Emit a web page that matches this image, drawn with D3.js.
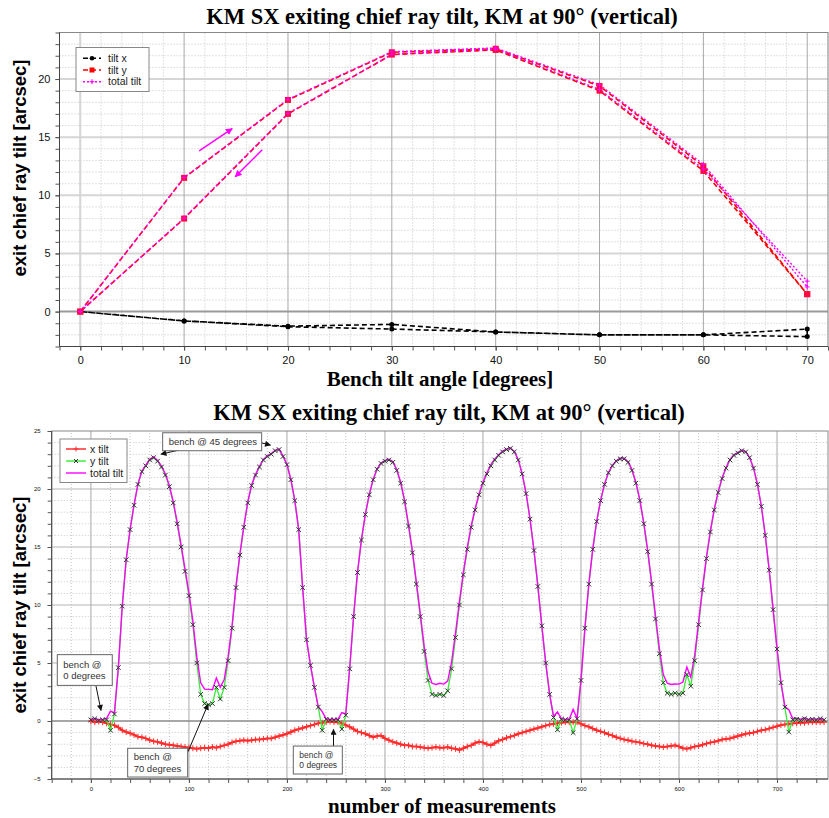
<!DOCTYPE html>
<html>
<head>
<meta charset="utf-8">
<script src="https://cdn.jsdelivr.net/npm/d3@7"></script>
<style>
  body { margin: 0; background: #fff; }
  svg { display: block; }
</style>
</head>
<body>
<svg id="chart" width="829" height="818"></svg>
<script>
// ---------------- Upper panel: bench swept 0 -> 70 -> 0 degrees ----------------
const benchAngles = [0, 10, 20, 30, 40, 50, 60, 70, 70, 60, 50, 40, 30, 20, 10, 0];
const tiltX      = [0, -0.8, -1.3, -1.5, -1.75, -2.0, -2.0, -1.5, -2.15, -2.0, -2.0, -1.75, -1.1, -1.25, -0.8, 0];
const tiltY      = [0, 11.5, 18.2, 22.3, 22.6, 19.4, 12.5, 1.5, 1.5, 12.1, 19.0, 22.5, 22.1, 17.0, 8.0, 0];
const totalTilt  = [0, 11.53, 18.25, 22.35, 22.67, 19.5, 12.66, 2.12, 2.62, 12.26, 19.1, 22.57, 22.13, 17.05, 8.04, 0];
const topXTicks = [0, 10, 20, 30, 40, 50, 60, 70];
const topYTicks = [0, 5, 10, 15, 20];

// ---------------- Lower panel: continuous log, every 4th measurement ----------------
const measurements = d3.range(0, 749, 4);
const xTiltLog = [
  0.0, -0.1, -0.05, -0.1, -0.2, -0.3, -0.37, -0.55, -0.8, -0.95,
  -1.05, -1.2, -1.35, -1.4, -1.5, -1.65, -1.75, -1.8, -1.9, -2.0,
  -2.05, -2.1, -2.15, -2.2, -2.25, -2.3, -2.35, -2.4, -2.35, -2.3,
  -2.35, -2.25, -2.3, -2.2, -2.1, -2.0, -1.85, -1.75, -1.7, -1.65,
  -1.7, -1.65, -1.6, -1.6, -1.55, -1.5, -1.5, -1.4, -1.3, -1.2,
  -1.1, -0.95, -0.8, -0.7, -0.6, -0.5, -0.4, -0.3, -0.2, -0.15,
  -0.1, -0.05, -0.1, -0.1, -0.2, -0.35, -0.5, -0.7, -0.9, -1.0,
  -1.1, -1.25, -1.4, -1.3, -1.25, -1.5, -1.65, -1.8, -1.9, -2.0,
  -2.1, -2.1, -2.2, -2.2, -2.25, -2.3, -2.35, -2.3, -2.25, -2.3,
  -2.3, -2.25, -2.35, -2.4, -2.5, -2.35, -2.2, -2.1, -1.9, -1.8,
  -1.85, -2.0, -2.1, -1.9, -1.7, -1.6, -1.45, -1.35, -1.25, -1.1,
  -1.0, -0.9, -0.8, -0.7, -0.6, -0.5, -0.4, -0.3, -0.25, -0.2,
  -0.15, -0.1, -0.1, -0.1, -0.1, -0.25, -0.4, -0.5, -0.65, -0.8,
  -0.9, -1.0, -1.15, -1.25, -1.4, -1.5, -1.6, -1.65, -1.75, -1.8,
  -1.85, -1.95, -2.0, -2.1, -2.15, -2.2, -2.25, -2.2, -2.15, -2.1,
  -2.2, -2.35, -2.4, -2.3, -2.2, -2.15, -2.05, -1.95, -1.85, -1.8,
  -1.7, -1.6, -1.55, -1.5, -1.4, -1.3, -1.2, -1.1, -1.05, -1.0,
  -0.9, -0.8, -0.75, -0.65, -0.55, -0.45, -0.35, -0.3, -0.25, -0.2,
  -0.2, -0.15, -0.15, -0.1, -0.1, -0.1, -0.1, -0.1
];
const yTiltLog = [
  0.1, 0.2, 0.05, 0.1, 0.1, -0.8, 0.6, 4.6, 9.9, 13.9,
  16.5, 18.6, 20.4, 21.5, 22.0, 22.5, 22.7, 22.4, 21.9, 21.2,
  20.2, 18.8, 17.0, 15.0, 12.9, 10.8, 8.3, 5.0, 2.3, 1.5,
  1.4, 1.5, 2.9, 1.9, 2.9, 5.2, 8.0, 11.5, 14.3, 16.7,
  18.8, 20.3, 21.2, 21.9, 22.5, 22.8, 23.0, 23.3, 23.4, 22.8,
  22.1, 20.8, 19.0, 16.5, 11.5, 7.0, 4.8, 2.9, 1.2, -0.8,
  0.15, 0.1, 0.1, 0.1, -0.7, 0.5, 4.5, 9.0, 12.8, 15.6,
  17.8, 19.5, 20.8, 21.7, 22.2, 22.4, 22.5, 22.3, 21.6, 20.5,
  18.9, 16.8, 14.5, 11.8, 9.0, 6.0, 3.5, 2.3, 2.2, 2.3,
  2.2, 2.6, 4.5, 7.2, 10.0, 12.6, 14.8, 16.7, 18.2, 19.5,
  20.5, 21.3, 22.0, 22.5, 22.9, 23.2, 23.4, 23.5, 23.2, 22.5,
  21.3, 19.6, 17.4, 14.7, 11.6, 8.2, 5.0, 2.3, 0.3, -0.75,
  0.15, 0.1, 0.1, -1.0, 0.2, 3.5, 8.0, 11.8, 14.8, 17.2,
  19.0, 20.4, 21.4, 22.0, 22.4, 22.6, 22.6, 22.3, 21.6, 20.5,
  19.0, 17.0, 14.6, 11.8, 8.8, 5.8, 3.3, 2.4, 2.3, 2.4,
  2.3, 2.4, 4.0, 3.0, 5.2, 8.3, 11.3, 14.0, 16.3, 18.2,
  19.7, 20.9, 21.8, 22.5, 22.9, 23.1, 23.3, 23.2, 22.7, 21.8,
  20.4, 18.5, 16.0, 13.0, 9.6, 6.2, 3.3, 1.2, -0.95, 0.1,
  0.15, 0.05, 0.2, 0.1, 0.15, 0.1, 0.2, 0.1
];
const totalTiltLog = [
  0.1, 0.22, 0.07, 0.14, 0.22, 0.85, 0.7, 4.63, 9.93, 13.93,
  16.53, 18.64, 20.44, 21.55, 22.05, 22.56, 22.77, 22.47, 21.98, 21.29,
  20.3, 18.92, 17.14, 15.16, 13.1, 11.04, 8.63, 5.55, 3.29, 2.75,
  2.73, 2.7, 3.7, 2.91, 3.58, 5.57, 8.21, 11.63, 14.4, 16.78,
  18.88, 20.37, 21.26, 21.96, 22.55, 22.85, 23.05, 23.34, 23.44, 22.83,
  22.13, 20.82, 19.02, 16.51, 11.52, 7.02, 4.82, 2.92, 1.22, 0.81,
  0.18, 0.11, 0.14, 0.14, 0.73, 0.61, 4.53, 9.03, 12.83, 15.63,
  17.83, 19.54, 20.85, 21.74, 22.24, 22.45, 22.56, 22.37, 21.68, 20.6,
  19.02, 16.93, 14.67, 12.0, 9.28, 6.43, 4.22, 3.25, 3.15, 3.25,
  3.18, 3.44, 5.08, 7.59, 10.31, 12.82, 14.96, 16.83, 18.3, 19.58,
  20.58, 21.39, 22.1, 22.58, 22.96, 23.26, 23.44, 23.54, 23.23, 22.53,
  21.32, 19.62, 17.42, 14.72, 11.62, 8.22, 5.02, 2.32, 0.39, 0.78,
  0.21, 0.14, 0.14, 1.0, 0.22, 3.51, 8.01, 11.81, 14.81, 17.22,
  19.02, 20.42, 21.43, 22.04, 22.44, 22.65, 22.66, 22.36, 21.67, 20.58,
  19.09, 17.11, 14.74, 11.99, 9.06, 6.2, 3.99, 3.26, 3.15, 3.19,
  3.18, 3.36, 4.66, 3.78, 5.65, 8.57, 11.48, 14.14, 16.4, 18.29,
  19.77, 20.96, 21.86, 22.55, 22.94, 23.14, 23.33, 23.23, 22.72, 21.82,
  20.42, 18.52, 16.02, 13.02, 9.62, 6.22, 3.32, 1.24, 0.98, 0.22,
  0.25, 0.16, 0.25, 0.14, 0.18, 0.14, 0.22, 0.14
];
const bottomXTicks = [0, 100, 200, 300, 400, 500, 600, 700];
const bottomYTicks = [-5, 0, 5, 10, 15, 20, 25];

const titleText = "KM SX exiting chief ray tilt, KM at 90° (vertical)";
const yLabelText = "exit chief ray tilt [arcsec]";

// ---------------- common helpers ----------------
const svg = d3.select("#chart");
const sans = "'Liberation Sans', Arial, sans-serif";
const serif = "'Liberation Serif', 'Times New Roman', serif";

const defs = svg.append("defs");
defs.append("marker").attr("id", "headBlack")
  .attr("viewBox", "0 0 10 10").attr("refX", 9).attr("refY", 5)
  .attr("markerWidth", 7).attr("markerHeight", 6).attr("markerUnits", "userSpaceOnUse")
  .attr("orient", "auto")
  .append("path").attr("d", "M0,0L10,5L0,10z").attr("fill", "#111");
defs.append("marker").attr("id", "headMagenta")
  .attr("viewBox", "0 0 10 10").attr("refX", 9).attr("refY", 5)
  .attr("markerWidth", 7).attr("markerHeight", 7).attr("markerUnits", "userSpaceOnUse")
  .attr("orient", "auto")
  .append("path").attr("d", "M0,0L10,5L0,10z").attr("fill", "#ff00ff");

function drawGrid(g, x, y, xMinor, xMajor, yMinor, yMajor, style) {
  const [y0, y1] = y.range();
  const [x0, x1] = x.range();
  g.append("g").selectAll("line").data(xMinor).join("line")
    .attr("x1", d => x(d)).attr("x2", d => x(d)).attr("y1", y0).attr("y2", y1)
    .attr("stroke", "#c4c4c4").attr("stroke-width", 1).attr("stroke-dasharray", "1,2");
  g.append("g").selectAll("line").data(yMinor).join("line")
    .attr("y1", d => y(d)).attr("y2", d => y(d)).attr("x1", x0).attr("x2", x1)
    .attr("stroke", "#c4c4c4").attr("stroke-width", 1).attr("stroke-dasharray", "1,2");
  g.append("g").selectAll("line").data(yMajor).join("line")
    .attr("y1", d => y(d)).attr("y2", d => y(d)).attr("x1", x0).attr("x2", x1)
    .attr("stroke", style.hMajor).attr("stroke-width", style.hMajorW);
  g.append("g").selectAll("line").data(xMajor).join("line")
    .attr("x1", d => x(d)).attr("x2", d => x(d)).attr("y1", y0).attr("y2", y1)
    .attr("stroke", style.vMajor).attr("stroke-width", style.vMajorW);
  g.append("line")
    .attr("x1", x0).attr("x2", x1).attr("y1", y(0)).attr("y2", y(0))
    .attr("stroke", style.zero).attr("stroke-width", style.zeroW);
}

function drawAxes(g, x, y, opt) {
  const [y0, y1] = y.range();
  const [x0, x1] = x.range();
  // minor ticks
  g.append("g").attr("transform", `translate(0,${y0})`)
    .call(d3.axisBottom(x).tickValues(opt.xMinorTicks).tickSize(opt.minorLen).tickFormat(""))
    .call(s => s.select(".domain").remove())
    .call(s => s.selectAll("line").attr("stroke", "#555"));
  g.append("g").attr("transform", `translate(${x0},0)`)
    .call(d3.axisLeft(y).tickValues(opt.yMinorTicks).tickSize(opt.minorLen).tickFormat(""))
    .call(s => s.select(".domain").remove())
    .call(s => s.selectAll("line").attr("stroke", "#555"));
  // major ticks + labels
  g.append("g").attr("transform", `translate(0,${y0})`)
    .call(d3.axisBottom(x).tickValues(opt.xTicks).tickSize(opt.majorLen).tickPadding(opt.xPad).tickFormat(d3.format("d")))
    .call(s => s.select(".domain").remove())
    .call(s => s.selectAll("line").attr("stroke", "#555"))
    .call(s => s.selectAll("text").attr("font-family", sans).attr("font-size", opt.fontSize).attr("fill", "#111"));
  g.append("g").attr("transform", `translate(${x0},0)`)
    .call(d3.axisLeft(y).tickValues(opt.yTicks).tickSize(opt.majorLen).tickPadding(opt.yPad).tickFormat(d3.format("d")))
    .call(s => s.select(".domain").remove())
    .call(s => s.selectAll("line").attr("stroke", "#555"))
    .call(s => s.selectAll("text").attr("font-family", sans).attr("font-size", opt.fontSize).attr("fill", "#111"));
  // frame
  g.append("rect").attr("x", x0).attr("y", y1).attr("width", x1 - x0).attr("height", y0 - y1)
    .attr("fill", "none").attr("stroke", "#888").attr("stroke-width", 1);
  g.append("line").attr("x1", x0).attr("x2", x1).attr("y1", y0).attr("y2", y0).attr("stroke", "#444");
  g.append("line").attr("x1", x0).attr("x2", x0).attr("y1", y0).attr("y2", y1).attr("stroke", "#444");
}

const plusPath = s => `M${-s},0H${s}M0,${-s}V${s}`;
const crossPath = s => `M${-s},${-s}L${s},${s}M${-s},${s}L${s},${-s}`;

// =================== Upper panel ===================
const xT = d3.scaleLinear().domain([-2, 72]).range([59.5, 828]);
const yT = d3.scaleLinear().domain([-3, 24]).range([346.5, 32.5]);
const gTop = svg.append("g");

drawGrid(gTop, xT, yT,
  d3.range(-2, 73, 2).filter(d => d % 10 !== 0),
  topXTicks,
  d3.range(-3, 25).filter(d => d % 5 !== 0),
  [5, 10, 15, 20],
  { hMajor: "#d6d6d6", hMajorW: 2, vMajor: "#a8a8a8", vMajorW: 1, zero: "#9a9a9a", zeroW: 2 });
// light vertical band at zero
gTop.append("line").attr("x1", xT(0)).attr("x2", xT(0)).attr("y1", yT.range()[0]).attr("y2", yT.range()[1])
  .attr("stroke", "#d6d6d6").attr("stroke-width", 2);

drawAxes(gTop, xT, yT, {
  xTicks: topXTicks, xMinorTicks: d3.range(-2, 73, 2),
  yTicks: topYTicks, yMinorTicks: d3.range(-3, 25),
  minorLen: 4, majorLen: 4, xPad: 6, yPad: 5, fontSize: "11px"
});

defs.append("clipPath").attr("id", "clipTop").append("rect")
  .attr("x", 59.5).attr("y", 32.5).attr("width", 828 - 59.5).attr("height", 346.5 - 32.5);
const topData = benchAngles.map((a, i) => ({ a, x: tiltX[i], y: tiltY[i], t: totalTilt[i] }));
const topPlot = gTop.append("g").attr("clip-path", "url(#clipTop)");

const lineTop = key => d3.line().x(d => xT(d.a)).y(d => yT(d[key]));
topPlot.append("path").datum(topData).attr("d", lineTop("x"))
  .attr("fill", "none").attr("stroke", "#000").attr("stroke-width", 1.6).attr("stroke-dasharray", "5,3");
topPlot.append("path").datum(topData).attr("d", lineTop("y"))
  .attr("fill", "none").attr("stroke", "#ff0000").attr("stroke-width", 1.6).attr("stroke-dasharray", "5,3");
topPlot.append("path").datum(topData).attr("d", lineTop("t"))
  .attr("fill", "none").attr("stroke", "#ff00ff").attr("stroke-width", 1.4).attr("stroke-dasharray", "2,2");
topPlot.selectAll(".mx").data(topData).join("circle")
  .attr("cx", d => xT(d.a)).attr("cy", d => yT(d.x)).attr("r", 2.5).attr("fill", "#000");
topPlot.selectAll(".my").data(topData).join("rect")
  .attr("x", d => xT(d.a) - 3).attr("y", d => yT(d.y) - 3).attr("width", 6).attr("height", 6)
  .attr("fill", "#ff0a3c");
topPlot.selectAll(".mt").data(topData).join("path")
  .attr("transform", d => `translate(${xT(d.a)},${yT(d.t)})`).attr("d", plusPath(2.5))
  .attr("stroke", "#ff00ff").attr("stroke-width", 1).attr("fill", "none");

// sweep direction arrows (angle, tilt)
const sweepArrows = [
  { from: [11.45, 13.83], to: [14.63, 15.74] },
  { from: [17.52, 13.91], to: [14.92, 11.59] }
];
gTop.selectAll(".sweep").data(sweepArrows).join("line")
  .attr("x1", d => xT(d.from[0])).attr("y1", d => yT(d.from[1]))
  .attr("x2", d => xT(d.to[0])).attr("y2", d => yT(d.to[1]))
  .attr("stroke", "#ff00ff").attr("stroke-width", 1.5).attr("marker-end", "url(#headMagenta)");

// legend
const legT = gTop.append("g").attr("transform", "translate(76,47.5)");
legT.append("rect").attr("width", 73).attr("height", 44).attr("fill", "#fff").attr("stroke", "#888");
const legTopItems = [
  { label: "tilt x", color: "#000", dash: "5,3", mark: "circle" },
  { label: "tilt y", color: "#ff0000", dash: "5,3", mark: "square" },
  { label: "total tilt", color: "#ff00ff", dash: "2,2", mark: "plus" }
];
legTopItems.forEach((d, i) => {
  const cy = 10.8 + i * 11.7;
  legT.append("line").attr("x1", 7).attr("x2", 25).attr("y1", cy).attr("y2", cy)
    .attr("stroke", d.color).attr("stroke-width", 1.5).attr("stroke-dasharray", d.dash);
  if (d.mark === "circle") legT.append("circle").attr("cx", 16).attr("cy", cy).attr("r", 2.3).attr("fill", d.color);
  if (d.mark === "square") legT.append("rect").attr("x", 13.5).attr("y", cy - 2.5).attr("width", 5).attr("height", 5).attr("fill", d.color);
  if (d.mark === "plus") legT.append("path").attr("transform", `translate(16,${cy})`).attr("d", plusPath(2.5)).attr("stroke", d.color);
  legT.append("text").attr("x", 32).attr("y", cy + 3.7).text(d.label)
    .attr("font-family", sans).attr("font-size", "10.5px").attr("fill", "#222");
});

// titles
svg.append("text").attr("x", 442).attr("y", 24).attr("text-anchor", "middle")
  .attr("font-family", serif).attr("font-weight", "bold").attr("font-size", "22.5px").text(titleText);
svg.append("text").attr("x", 440).attr("y", 386).attr("text-anchor", "middle")
  .attr("font-family", serif).attr("font-weight", "bold").attr("font-size", "21px").text("Bench tilt angle [degrees]");
svg.append("text").attr("transform", "translate(26,168) rotate(-90)").attr("text-anchor", "middle")
  .attr("font-family", sans).attr("font-weight", "bold").attr("font-size", "18.5px").text(yLabelText);

// =================== Lower panel ===================
const xB = d3.scaleLinear().domain([-40, 752]).range([51.7, 828]);
const yB = d3.scaleLinear().domain([-5, 25]).range([779, 431]);
const gBot = svg.append("g");

drawGrid(gBot, xB, yB,
  d3.range(-40, 752, 20).filter(d => d % 100 !== 0),
  bottomXTicks,
  d3.range(-5, 26).filter(d => d % 5 !== 0),
  [5, 10, 15, 20],
  { hMajor: "#b4b4b4", hMajorW: 1, vMajor: "#a8a8a8", vMajorW: 1, zero: "#8a8a8a", zeroW: 1.5 });

drawAxes(gBot, xB, yB, {
  xTicks: bottomXTicks, xMinorTicks: d3.range(-40, 752, 20),
  yTicks: bottomYTicks, yMinorTicks: d3.range(-5, 26),
  minorLen: 4, majorLen: 4, xPad: 4, yPad: 7, fontSize: "6px"
});

defs.append("clipPath").attr("id", "clipBot").append("rect")
  .attr("x", 51.7).attr("y", 431).attr("width", 828 - 51.7).attr("height", 779 - 431);
const botData = measurements.map((m, i) => ({ m, x: xTiltLog[i], y: yTiltLog[i], t: totalTiltLog[i] }));
const botPlot = gBot.append("g").attr("clip-path", "url(#clipBot)");
const lineBot = key => d3.line().x(d => xB(d.m)).y(d => yB(d[key]));

// x tilt
botPlot.append("path").datum(botData).attr("d", lineBot("x"))
  .attr("fill", "none").attr("stroke", "#ff2020").attr("stroke-width", 2);
botPlot.selectAll(".px").data(botData).join("path")
  .attr("transform", d => `translate(${xB(d.m)},${yB(d.x)})`).attr("d", plusPath(3))
  .attr("stroke", "#ff3030").attr("stroke-width", 1).attr("fill", "none");
// y tilt line
botPlot.append("path").datum(botData).attr("d", lineBot("y"))
  .attr("fill", "none").attr("stroke", "#33ee33").attr("stroke-width", 1.3);
// total tilt
botPlot.append("path").datum(botData).attr("d", lineBot("t"))
  .attr("fill", "none").attr("stroke", "#ff00ff").attr("stroke-width", 1.4);
// y tilt markers
botPlot.selectAll(".py").data(botData).join("path")
  .attr("transform", d => `translate(${xB(d.m)},${yB(d.y)})`).attr("d", crossPath(2.3))
  .attr("stroke", "#333").attr("stroke-width", 1).attr("fill", "none");

// legend
const legB = gBot.append("g").attr("transform", "translate(60,439)");
legB.append("rect").attr("width", 67).attr("height", 43.5).attr("fill", "#fff").attr("stroke", "#888");
const legBotItems = [
  { label: "x tilt", color: "#ff2020", mark: "plus", markColor: "#ff3030" },
  { label: "y tilt", color: "#33ee33", mark: "cross", markColor: "#333" },
  { label: "total tilt", color: "#ff00ff", mark: null }
];
legBotItems.forEach((d, i) => {
  const cy = 10 + i * 12;
  legB.append("line").attr("x1", 6).attr("x2", 26).attr("y1", cy).attr("y2", cy)
    .attr("stroke", d.color).attr("stroke-width", 1.4);
  if (d.mark === "plus") legB.append("path").attr("transform", `translate(16,${cy})`).attr("d", plusPath(2.5)).attr("stroke", d.markColor);
  if (d.mark === "cross") legB.append("path").attr("transform", `translate(16,${cy})`).attr("d", crossPath(2)).attr("stroke", d.markColor);
  legB.append("text").attr("x", 30).attr("y", cy + 3.7).text(d.label)
    .attr("font-family", sans).attr("font-size", "10.5px").attr("fill", "#222");
});

// callouts: box corners and arrows in (measurement, tilt) units
const callouts = [
  { lines: ["bench @ 45 degrees"], box: [73.2, 24.85, 174.2, 23.3], size: 9.5,
    arrows: [{ from: [90.1, 23.36], to: [71.5, 23.0] }, { from: [174.2, 23.97], to: [183.2, 23.79] }] },
  { lines: ["bench @", "0 degrees"], box: [-34.3, 5.72, 21.8, 3.07], size: 9.5,
    arrows: [{ from: [5.2, 3.01], to: [10.3, 0.91] }] },
  { lines: ["bench @", "70 degrees"], box: [37.5, -2.35, 98.7, -4.83], size: 9.5,
    arrows: [{ from: [99.1, -2.65], to: [119.5, 1.44] }] },
  { lines: ["bench @", "0 degrees"], box: [206.5, -2.16, 256.5, -4.57], size: 8.5,
    arrows: [{ from: [247.5, -2.16], to: [247.5, -0.72] }] }
];
callouts.forEach(c => {
  const g = gBot.append("g");
  c.arrows.forEach(a => {
    g.append("line")
      .attr("x1", xB(a.from[0])).attr("y1", yB(a.from[1]))
      .attr("x2", xB(a.to[0])).attr("y2", yB(a.to[1]))
      .attr("stroke", "#111").attr("stroke-width", 1).attr("marker-end", "url(#headBlack)");
  });
  const bx = xB(c.box[0]), by = yB(c.box[1]);
  const bw = xB(c.box[2]) - bx, bh = yB(c.box[3]) - by;
  g.append("rect").attr("x", bx).attr("y", by).attr("width", bw).attr("height", bh)
    .attr("fill", "#fff").attr("stroke", "#666").attr("stroke-width", 1);
  const lh = c.size * 1.2;
  const firstBase = by + bh / 2 - (c.lines.length - 1) * lh / 2 + c.size * 0.35;
  c.lines.forEach((t, i) => {
    g.append("text").attr("x", bx + 6).attr("y", firstBase + i * lh).text(t)
      .attr("font-family", sans).attr("font-size", c.size + "px").attr("fill", "#333");
  });
});

svg.append("text").attr("x", 449).attr("y", 420).attr("text-anchor", "middle")
  .attr("font-family", serif).attr("font-weight", "bold").attr("font-size", "22.5px").text(titleText);
svg.append("text").attr("x", 442).attr("y", 813).attr("text-anchor", "middle")
  .attr("font-family", serif).attr("font-weight", "bold").attr("font-size", "21px").text("number of measurements");
svg.append("text").attr("transform", "translate(26,605) rotate(-90)").attr("text-anchor", "middle")
  .attr("font-family", sans).attr("font-weight", "bold").attr("font-size", "18.5px").text(yLabelText);
</script>
</body>
</html>
